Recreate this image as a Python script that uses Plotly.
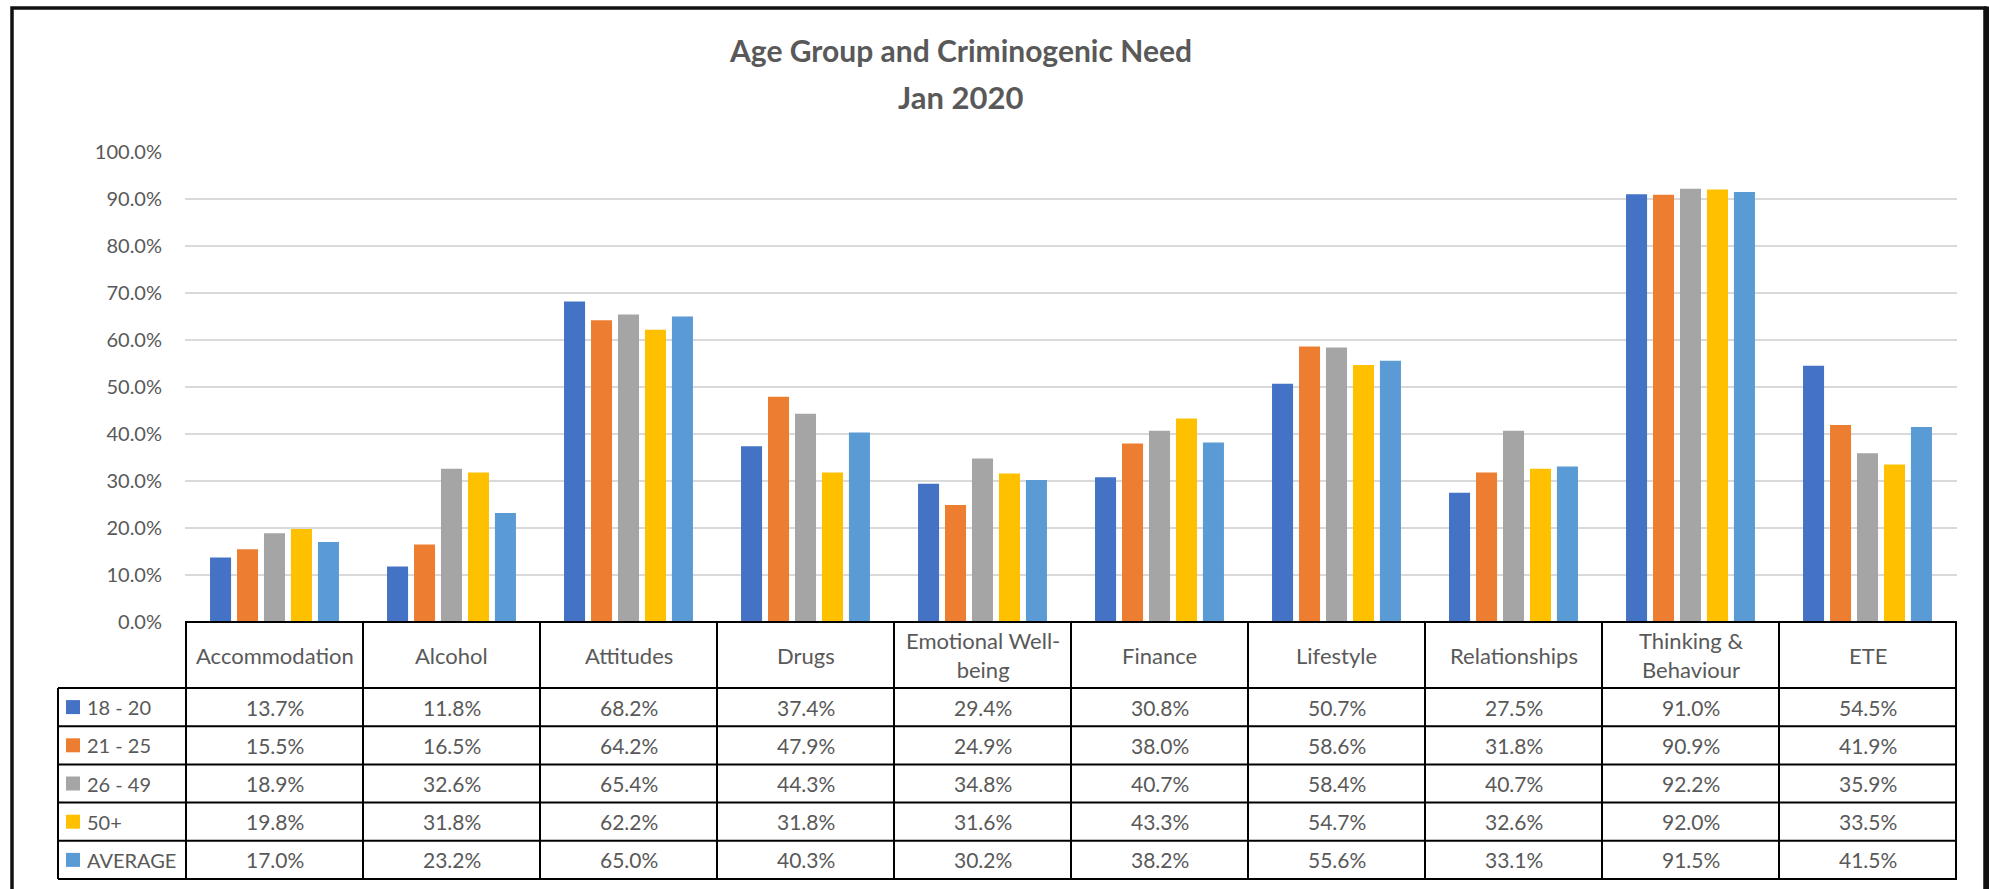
import plotly.graph_objects as go

# ---- data -------------------------------------------------------------
categories = ["Accommodation", "Alcohol", "Attitudes", "Drugs",
              "Emotional Well-being", "Finance", "Lifestyle",
              "Relationships", "Thinking & Behaviour", "ETE"]
header_labels = ["Accommodation", "Alcohol", "Attitudes", "Drugs",
                 "Emotional Well-<br>being", "Finance", "Lifestyle",
                 "Relationships", "Thinking &<br>Behaviour", "ETE"]

series_names = ["18 - 20", "21 - 25", "26 - 49", "50+", "AVERAGE"]
age_18_20 = [13.7, 11.8, 68.2, 37.4, 29.4, 30.8, 50.7, 27.5, 91.0, 54.5]
age_21_25 = [15.5, 16.5, 64.2, 47.9, 24.9, 38.0, 58.6, 31.8, 90.9, 41.9]
age_26_49 = [18.9, 32.6, 65.4, 44.3, 34.8, 40.7, 58.4, 40.7, 92.2, 35.9]
age_50_plus = [19.8, 31.8, 62.2, 31.8, 31.6, 43.3, 54.7, 32.6, 92.0, 33.5]
average = [17.0, 23.2, 65.0, 40.3, 30.2, 38.2, 55.6, 33.1, 91.5, 41.5]
series_values = [age_18_20, age_21_25, age_26_49, age_50_plus, average]

colors = ["#4472C4", "#ED7D31", "#A5A5A5", "#FFC000", "#5B9BD5"]
y_ticks = [0, 0.1, 0.2, 0.3, 0.4, 0.5, 0.6, 0.7, 0.8, 0.9, 1.0]

# ---- geometry (pixels) -----------------------------------------------
W, H = 1989, 889
FONT = "Lato"
TEXT = "#595959"

plot_left, plot_right = 185, 1957
plot_top, plot_bottom = 152, 622
legend_left = 58
header_bottom = 688
row_h = 38.2
row_edges = [header_bottom + i * row_h for i in range(len(series_names) + 1)]


def px(x):
    return x / W


def py(y):
    return 1 - y / H


fig = go.Figure()
for name, vals, col in zip(series_names, series_values, colors):
    fig.add_trace(go.Bar(
        x=categories,
        y=[v / 100 for v in vals],
        name=name,
        marker=dict(color=col, line=dict(width=0)),
        showlegend=False,
    ))

shapes = []
annotations = []
line_style = dict(color="#000000", width=2)

# outer chart frame (right edge drawn heavier)
shapes.append(dict(type="rect", xref="paper", yref="paper",
                   x0=px(12), x1=px(1985), y0=py(900), y1=py(8),
                   line=dict(color="#111111", width=3.5), layer="above"))
shapes.append(dict(type="line", xref="paper", yref="paper",
                   x0=px(1986.5), x1=px(1986.5), y0=py(900), y1=py(6.5),
                   line=dict(color="#111111", width=5), layer="above"))

# data table: horizontal rules
shapes.append(dict(type="line", xref="paper", yref="paper",
                   x0=px(plot_left), x1=px(plot_right),
                   y0=py(plot_bottom), y1=py(plot_bottom), line=line_style))
for yv in row_edges:
    shapes.append(dict(type="line", xref="paper", yref="paper",
                       x0=px(legend_left), x1=px(plot_right),
                       y0=py(yv), y1=py(yv), line=line_style))

# data table: vertical rules
shapes.append(dict(type="line", xref="paper", yref="paper",
                   x0=px(legend_left), x1=px(legend_left),
                   y0=py(header_bottom), y1=py(row_edges[-1]), line=line_style))
for i in range(len(categories) + 1):
    shapes.append(dict(type="line", xref="x", yref="paper",
                       x0=i - 0.5, x1=i - 0.5,
                       y0=py(plot_bottom), y1=py(row_edges[-1]),
                       line=line_style))

# header cells
for cat, lab in zip(categories, header_labels):
    annotations.append(dict(xref="x", yref="paper", x=cat,
                            y=py((plot_bottom + header_bottom) / 2),
                            text=lab, showarrow=False,
                            font=dict(family=FONT, size=22, color=TEXT),
                            xanchor="center", yanchor="middle"))

# series rows: legend key + values
for r, (name, vals, col) in enumerate(zip(series_names, series_values, colors)):
    yc = (row_edges[r] + row_edges[r + 1]) / 2
    shapes.append(dict(type="rect", xref="paper", yref="paper",
                       x0=px(66), x1=px(80), y0=py(yc + 7), y1=py(yc - 7),
                       fillcolor=col, line=dict(width=0)))
    annotations.append(dict(xref="paper", yref="paper", x=px(85), y=py(yc),
                            text=name, showarrow=False,
                            font=dict(family=FONT, size=20, color=TEXT),
                            xanchor="left", yanchor="middle"))
    for cat, v in zip(categories, vals):
        annotations.append(dict(xref="x", yref="paper", x=cat, y=py(yc),
                                text=f"{v:.1f}%", showarrow=False,
                                font=dict(family=FONT, size=21, color=TEXT),
                                xanchor="center", yanchor="middle"))

# title
annotations.append(dict(xref="paper", yref="paper", x=px(960), y=py(50),
                        text="<b>Age Group and Criminogenic Need</b>",
                        showarrow=False,
                        font=dict(family=FONT, size=30, color=TEXT),
                        xanchor="center", yanchor="middle"))
annotations.append(dict(xref="paper", yref="paper", x=px(960), y=py(97),
                        text="<b>Jan 2020</b>", showarrow=False,
                        font=dict(family=FONT, size=31, color=TEXT),
                        xanchor="center", yanchor="middle"))

fig.update_layout(
    width=W, height=H,
    margin=dict(l=0, r=0, t=0, b=0, pad=0, autoexpand=False),
    paper_bgcolor="white", plot_bgcolor="white",
    showlegend=False,
    barmode="group", bargap=0.238, bargroupgap=0.22,
    font=dict(family=FONT, color=TEXT),
    shapes=shapes, annotations=annotations,
    xaxis=dict(domain=[px(plot_left), px(plot_right)], automargin=False,
               showticklabels=False, showgrid=False, zeroline=False,
               showline=False, ticks=""),
    yaxis=dict(domain=[py(plot_bottom), py(plot_top)], automargin=False,
               range=[0, 1.0], tickvals=y_ticks, tickformat=".1%",
               showgrid=True, gridcolor="#D9D9D9", gridwidth=1.5,
               zeroline=False, showline=False, ticks="",
               ticklabelstandoff=22,
               tickfont=dict(family=FONT, size=20, color=TEXT)),
)

fig.write_html("out.html")
